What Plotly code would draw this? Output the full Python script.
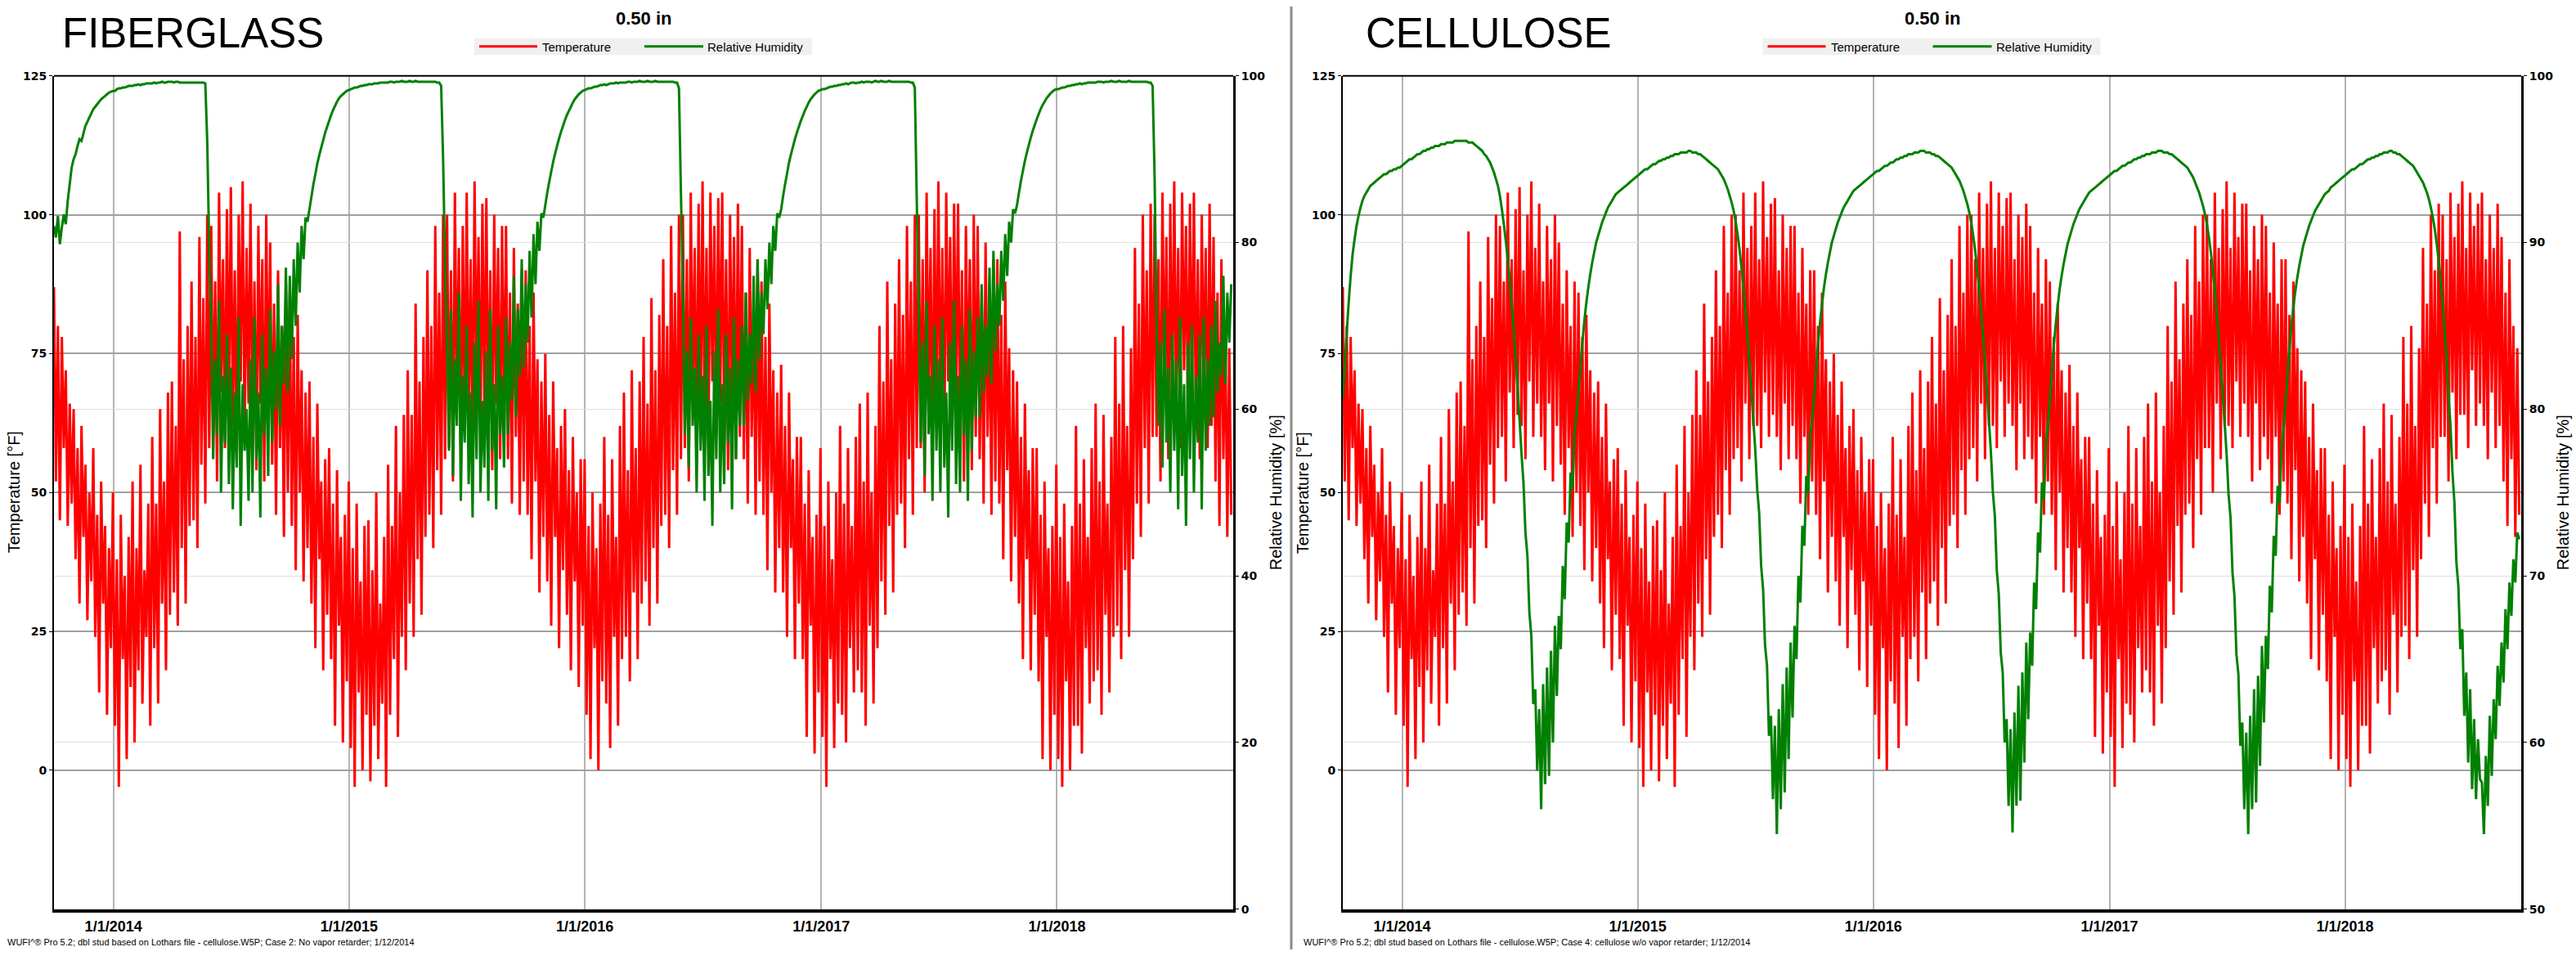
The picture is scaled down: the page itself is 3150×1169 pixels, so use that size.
import pandas as pd
import plotly.graph_objects as go

W, H = 3150, 1169

# ---------------- data ----------------
start_date = "2013-10-01"
end_date = "2018-10-01"

year_tick_dates = ["2014-01-01", "2015-01-01", "2016-01-01", "2017-01-01", "2018-01-01"]
year_tick_labels = ["1/1/2014", "1/1/2015", "1/1/2016", "1/1/2017", "1/1/2018"]

temp_ticks = [0, 25, 50, 75, 100, 125]
rh_ticks_fiberglass = [0, 20, 40, 60, 80, 100]
rh_ticks_cellulose = [50, 60, 70, 80, 90, 100]

# temperature [F], ~10 readings per month, Oct 2013 .. Sep 2018
temp_f = [
    87, 52, 80, 45, 78, 58, 72, 44, 66, 48,
    65, 38, 58, 30, 62, 42, 55, 27, 50, 34,
    58, 24, 46, 14, 52, 30, 44, 10, 40, 22,
    50, 8, 38, -3, 46, 20, 35, 2, 42, 15,
    52, 5, 40, 18, 55, 12, 36, 24, 48, 8,
    60, 22, 48, 12, 65, 30, 52, 18, 68, 28,
    70, 32, 62, 26, 97, 40, 74, 30, 80, 44,
    88, 45, 78, 40, 96, 55, 85, 48, 100, 58,
    98, 60, 88, 52, 104, 68, 92, 58, 101, 64,
    105, 62, 90, 56, 100, 70, 106, 60, 94, 66,
    102, 60, 88, 54, 98, 66, 92, 52, 100, 62,
    95, 55, 84, 46, 90, 58, 80, 42, 88, 50,
    86, 44, 78, 36, 82, 50, 72, 34, 68, 40,
    70, 30, 60, 22, 66, 38, 52, 18, 56, 28,
    58, 20, 48, 8, 54, 26, 42, 5, 46, 16,
    52, 4, 40, -3, 48, 14, 34, 0, 44, 10,
    45, -2, 36, 8, 50, 2, 30, 12, 42, -3,
    55, 10, 44, 20, 62, 6, 50, 24, 64, 18,
    72, 30, 64, 24, 84, 38, 70, 28, 78, 42,
    90, 46, 80, 40, 98, 54, 86, 46, 100, 56,
    100, 58, 90, 52, 104, 66, 94, 56, 98, 62,
    104, 62, 92, 58, 106, 68, 96, 60, 102, 64,
    103, 60, 90, 54, 100, 66, 94, 56, 98, 62,
    98, 56, 86, 48, 94, 60, 84, 46, 90, 52,
    90, 46, 80, 38, 86, 52, 74, 32, 70, 42,
    75, 34, 64, 26, 70, 42, 58, 22, 62, 36,
    65, 28, 54, 18, 60, 34, 50, 15, 56, 26,
    56, 10, 44, 2, 50, 22, 40, 0, 48, 16,
    60, 12, 46, 4, 56, 24, 42, 8, 62, 20,
    68, 24, 54, 16, 72, 32, 58, 20, 70, 30,
    78, 34, 66, 26, 85, 40, 72, 30, 82, 44,
    92, 46, 80, 40, 98, 54, 86, 46, 100, 56,
    100, 58, 92, 52, 104, 66, 94, 56, 102, 62,
    106, 62, 94, 58, 104, 70, 98, 60, 103, 66,
    104, 62, 92, 54, 100, 66, 96, 56, 102, 60,
    98, 56, 86, 48, 94, 60, 84, 46, 92, 52,
    88, 46, 78, 36, 84, 50, 72, 32, 68, 40,
    73, 32, 62, 24, 68, 40, 56, 20, 60, 30,
    60, 20, 48, 6, 54, 26, 42, 3, 46, 14,
    58, 6, 44, -3, 52, 20, 38, 4, 50, 12,
    62, 10, 48, 5, 58, 22, 44, 14, 60, 18,
    66, 14, 52, 8, 68, 26, 50, 12, 62, 22,
    80, 34, 70, 28, 88, 44, 74, 32, 84, 46,
    92, 48, 82, 40, 98, 56, 88, 46, 100, 58,
    100, 58, 92, 50, 104, 66, 94, 56, 101, 62,
    106, 62, 94, 58, 104, 70, 96, 60, 102, 66,
    102, 60, 90, 52, 98, 66, 92, 54, 100, 60,
    98, 56, 86, 48, 95, 60, 84, 46, 92, 52,
    92, 48, 82, 38, 88, 54, 76, 34, 72, 42,
    70, 30, 60, 20, 66, 38, 54, 18, 58, 28,
    58, 16, 46, 2, 52, 24, 40, 0, 44, 10,
    55, 2, 42, -3, 48, 16, 34, 0, 44, 8,
    62, 8, 48, 3, 56, 22, 42, 12, 58, 16,
    66, 18, 52, 10, 64, 28, 48, 14, 60, 24,
    78, 26, 66, 20, 80, 36, 62, 24, 76, 38,
    94, 48, 84, 42, 100, 58, 90, 48, 102, 60,
    100, 60, 92, 52, 104, 68, 96, 56, 102, 64,
    106, 64, 94, 58, 104, 72, 98, 62, 102, 66,
    104, 62, 92, 56, 100, 68, 94, 58, 102, 62,
    96, 52, 86, 44, 92, 56, 80, 42, 76, 46,
]

# relative humidity [%] at 0.50 in, fiberglass case
rh_fiberglass = [
    82.0, 80.6, 83.2, 79.8, 81.8, 83.4, 82.2, 85.0, 87.0, 89.0,
    90.0, 90.6, 91.6, 92.4, 92.2, 93.1, 94.0, 94.5, 95.0, 95.5,
    96.0, 96.3, 96.6, 96.9, 97.2, 97.4, 97.6, 97.8, 98.0, 98.1,
    98.2, 98.2, 98.4, 98.5, 98.5, 98.6, 98.6, 98.7, 98.8, 98.8,
    98.8, 98.9, 98.9, 99.0, 98.9, 99.0, 99.0, 99.1, 99.1, 99.1,
    99.1, 99.2, 99.1, 99.2, 99.2, 99.3, 99.2, 99.2, 99.3, 99.3,
    99.3, 99.2, 99.3, 99.3, 99.2, 99.2, 99.2, 99.2, 99.2, 99.2,
    99.2, 99.2, 99.2, 99.2, 99.2, 99.2, 99.2, 99.1, 92.0, 79.0,
    70.0, 54.0, 66.0, 57.0, 73.0, 50.0, 64.0, 56.0, 69.0, 51.0,
    65.0, 48.0, 62.0, 53.0, 71.0, 46.0, 63.0, 55.0, 60.0, 49.0,
    66.0, 50.0, 71.0, 54.0, 62.0, 47.0, 69.0, 57.0, 65.0, 52.0,
    72.0, 56.0, 67.0, 60.0, 75.0, 58.0, 70.0, 63.0, 77.0, 62.0,
    76.0, 66.0, 78.0, 70.0, 80.0, 74.0, 82.0, 78.0, 83.0, 82.5,
    84.0, 85.5, 87.0, 88.2, 89.5, 90.5, 91.4, 92.3, 93.2, 93.9,
    94.6, 95.3, 95.9, 96.4, 96.9, 97.3, 97.6, 97.8, 98.0, 98.2,
    98.3, 98.4, 98.5, 98.6, 98.6, 98.7, 98.8, 98.8, 98.9, 98.9,
    99.0, 99.0, 99.0, 99.1, 99.1, 99.1, 99.2, 99.2, 99.2, 99.2,
    99.2, 99.3, 99.3, 99.2, 99.3, 99.3, 99.3, 99.4, 99.3, 99.3,
    99.3, 99.4, 99.3, 99.3, 99.4, 99.3, 99.3, 99.3, 99.3, 99.3,
    99.3, 99.3, 99.3, 99.3, 99.3, 99.2, 99.2, 98.8, 90.0, 77.0,
    68.0, 55.0, 72.0, 52.0, 66.0, 58.0, 74.0, 49.0, 64.0, 56.0,
    70.0, 51.0, 62.0, 47.0, 68.0, 54.0, 73.0, 50.0, 61.0, 53.0,
    67.0, 49.0, 72.0, 55.0, 63.0, 48.0, 70.0, 57.0, 64.0, 53.0,
    71.0, 57.0, 68.0, 61.0, 76.0, 59.0, 72.0, 64.0, 78.0, 65.0,
    75.0, 68.0, 79.0, 71.0, 81.0, 75.0, 82.5, 79.0, 83.5, 83.0,
    84.5, 86.0, 87.3, 88.5, 89.7, 90.7, 91.6, 92.5, 93.3, 94.0,
    94.7, 95.3, 95.8, 96.3, 96.8, 97.2, 97.5, 97.8, 98.0, 98.2,
    98.3, 98.4, 98.5, 98.5, 98.6, 98.7, 98.7, 98.8, 98.9, 98.9,
    99.0, 98.9, 99.0, 99.1, 99.1, 99.1, 99.2, 99.1, 99.2, 99.2,
    99.2, 99.2, 99.3, 99.3, 99.2, 99.3, 99.3, 99.3, 99.4, 99.3,
    99.3, 99.3, 99.4, 99.3, 99.3, 99.3, 99.4, 99.3, 99.3, 99.3,
    99.3, 99.3, 99.3, 99.3, 99.3, 99.3, 99.2, 99.2, 98.5, 86.0,
    74.0, 57.0, 67.0, 53.0, 71.0, 58.0, 65.0, 50.0, 69.0, 55.0,
    64.0, 49.0, 70.0, 52.0, 61.0, 46.0, 67.0, 54.0, 72.0, 50.0,
    63.0, 51.0, 69.0, 56.0, 65.0, 48.0, 71.0, 54.0, 66.0, 58.0,
    70.0, 58.0, 74.0, 61.0, 69.0, 63.0, 76.0, 62.0, 78.0, 66.0,
    74.0, 69.0, 78.0, 72.0, 80.0, 75.0, 82.0, 79.0, 83.5, 83.0,
    84.0, 85.6, 87.0, 88.3, 89.6, 90.6, 91.5, 92.4, 93.2, 93.9,
    94.6, 95.2, 95.8, 96.3, 96.8, 97.2, 97.5, 97.8, 98.0, 98.2,
    98.3, 98.4, 98.4, 98.5, 98.6, 98.7, 98.7, 98.8, 98.8, 98.9,
    98.9, 99.0, 99.0, 99.1, 99.0, 99.1, 99.2, 99.2, 99.1, 99.2,
    99.2, 99.3, 99.2, 99.3, 99.3, 99.3, 99.2, 99.3, 99.4, 99.3,
    99.3, 99.4, 99.3, 99.3, 99.3, 99.4, 99.3, 99.3, 99.3, 99.3,
    99.3, 99.3, 99.3, 99.3, 99.3, 99.3, 99.2, 99.2, 98.6, 85.0,
    72.0, 56.0, 68.0, 52.0, 73.0, 57.0, 64.0, 49.0, 70.0, 55.0,
    66.0, 50.0, 71.0, 53.0, 62.0, 47.0, 68.0, 55.0, 73.0, 51.0,
    64.0, 50.0, 70.0, 57.0, 66.0, 49.0, 72.0, 55.0, 67.0, 59.0,
    71.0, 59.0, 75.0, 62.0, 70.0, 64.0, 77.0, 63.0, 79.0, 67.0,
    75.0, 70.0, 79.0, 73.0, 81.0, 76.0, 82.5, 80.0, 84.0, 83.5,
    84.5, 86.0, 87.4, 88.6, 89.8, 90.8, 91.7, 92.6, 93.4, 94.1,
    94.8, 95.4, 96.0, 96.5, 96.9, 97.3, 97.6, 97.9, 98.1, 98.3,
    98.4, 98.4, 98.5, 98.6, 98.6, 98.7, 98.8, 98.8, 98.9, 98.9,
    99.0, 99.0, 99.1, 99.0, 99.1, 99.1, 99.2, 99.2, 99.2, 99.2,
    99.2, 99.3, 99.3, 99.3, 99.2, 99.3, 99.3, 99.3, 99.4, 99.3,
    99.3, 99.3, 99.4, 99.3, 99.3, 99.3, 99.3, 99.4, 99.3, 99.3,
    99.3, 99.3, 99.3, 99.3, 99.3, 99.3, 99.3, 99.2, 99.2, 98.8,
    88.0, 70.0, 58.0, 68.0, 53.0, 72.0, 56.0, 65.0, 50.0, 69.0,
    55.0, 66.0, 48.0, 71.0, 52.0, 63.0, 46.0, 68.0, 54.0, 70.0,
    50.0, 64.0, 56.0, 69.0, 48.0, 71.0, 55.0, 66.0, 58.0, 70.0,
    59.0, 73.0, 62.0, 68.0, 64.0, 76.0, 63.0, 74.0, 68.0, 75.0,
]

# relative humidity [%] at 0.50 in, cellulose case
rh_cellulose = [
    80.7, 82.5, 84.6, 86.4, 88.0, 89.3, 90.2, 91.0, 91.6, 92.1,
    92.5, 92.8, 93.0, 93.2, 93.4, 93.5, 93.6, 93.7, 93.8, 93.9,
    94.0, 94.1, 94.1, 94.2, 94.3, 94.3, 94.4, 94.4, 94.5, 94.5,
    94.6, 94.7, 94.8, 94.9, 95.0, 95.0, 95.1, 95.2, 95.3, 95.3,
    95.4, 95.5, 95.5, 95.6, 95.6, 95.7, 95.7, 95.8, 95.8, 95.8,
    95.9, 95.9, 95.9, 96.0, 96.0, 96.0, 96.0, 96.1, 96.1, 96.1,
    96.1, 96.1, 96.1, 96.1, 96.0, 96.0, 96.0, 95.9, 95.8, 95.7,
    95.6, 95.5, 95.3, 95.2, 95.0, 94.8, 94.5, 94.2, 93.8, 93.4,
    92.8, 92.0, 91.1, 90.1, 89.0, 87.7, 86.3, 84.8, 83.1, 81.3,
    79.4, 77.3, 75.6, 72.6, 71.2, 67.8, 66.4, 62.3, 63.2, 58.3,
    62.0, 56.0, 63.5, 57.5, 64.5, 58.0, 65.5, 60.0, 67.0, 62.8,
    67.6, 65.6, 70.6, 68.6, 73.2, 72.0, 76.2, 75.2, 78.6, 79.6,
    81.0, 82.6, 84.0, 85.3, 86.4, 87.3, 88.1, 88.8, 89.4, 90.0,
    90.4, 90.8, 91.2, 91.5, 91.8, 92.1, 92.3, 92.5, 92.7, 92.9,
    93.0, 93.1, 93.2, 93.3, 93.4, 93.5, 93.6, 93.7, 93.8, 93.9,
    94.0, 94.1, 94.2, 94.3, 94.4, 94.4, 94.5, 94.6, 94.7, 94.7,
    94.8, 94.9, 94.9, 95.0, 95.0, 95.1, 95.1, 95.2, 95.2, 95.3,
    95.3, 95.3, 95.4, 95.4, 95.4, 95.4, 95.5, 95.5, 95.4, 95.4,
    95.4, 95.3, 95.3, 95.2, 95.1, 95.0, 94.9, 94.8, 94.7, 94.6,
    94.5, 94.4, 94.2, 94.0, 93.8, 93.5, 93.2, 92.8, 92.4, 91.9,
    91.3, 90.5, 89.6, 88.5, 87.3, 86.0, 84.5, 82.9, 81.2, 79.4,
    77.6, 75.2, 73.8, 70.6, 69.2, 65.8, 64.6, 60.4, 61.6, 56.6,
    61.0, 54.5, 62.0, 56.0, 63.5, 57.0, 64.5, 59.0, 66.0, 61.5,
    67.0, 65.0, 70.0, 68.4, 73.0, 71.8, 76.0, 75.0, 78.4, 79.4,
    80.8, 82.4, 83.9, 85.2, 86.3, 87.3, 88.1, 88.8, 89.4, 90.0,
    90.4, 90.8, 91.2, 91.5, 91.8, 92.1, 92.3, 92.5, 92.7, 92.9,
    93.1, 93.2, 93.3, 93.4, 93.5, 93.6, 93.7, 93.8, 93.9, 94.0,
    94.1, 94.2, 94.3, 94.3, 94.4, 94.5, 94.6, 94.6, 94.7, 94.8,
    94.8, 94.9, 95.0, 95.0, 95.1, 95.1, 95.2, 95.2, 95.3, 95.3,
    95.3, 95.4, 95.4, 95.4, 95.5, 95.5, 95.5, 95.4, 95.4, 95.4,
    95.3, 95.3, 95.2, 95.2, 95.1, 95.0, 94.9, 94.8, 94.7, 94.6,
    94.5, 94.3, 94.1, 93.9, 93.7, 93.4, 93.1, 92.7, 92.3, 91.8,
    91.2, 90.4, 89.5, 88.4, 87.2, 85.9, 84.4, 82.8, 81.1, 79.3,
    77.4, 75.0, 73.6, 70.3, 68.9, 65.4, 64.2, 60.0, 61.4, 56.2,
    60.8, 54.6, 61.8, 56.2, 63.4, 56.5, 64.2, 58.8, 66.0, 61.4,
    66.6, 64.6, 69.6, 68.0, 72.6, 71.4, 75.6, 74.6, 78.0, 79.0,
    80.5, 82.2, 83.8, 85.1, 86.2, 87.2, 88.0, 88.7, 89.3, 89.9,
    90.3, 90.7, 91.1, 91.4, 91.7, 92.0, 92.2, 92.4, 92.6, 92.8,
    93.0, 93.1, 93.2, 93.3, 93.4, 93.5, 93.6, 93.7, 93.8, 93.9,
    94.0, 94.1, 94.2, 94.3, 94.3, 94.4, 94.5, 94.6, 94.6, 94.7,
    94.8, 94.8, 94.9, 95.0, 95.0, 95.1, 95.1, 95.2, 95.2, 95.3,
    95.3, 95.3, 95.4, 95.4, 95.4, 95.5, 95.5, 95.5, 95.4, 95.4,
    95.4, 95.3, 95.3, 95.2, 95.1, 95.0, 94.9, 94.8, 94.7, 94.6,
    94.5, 94.3, 94.1, 93.9, 93.6, 93.3, 93.0, 92.6, 92.2, 91.7,
    91.1, 90.3, 89.4, 88.3, 87.1, 85.8, 84.3, 82.7, 81.0, 79.2,
    77.3, 74.9, 73.5, 70.2, 68.8, 65.3, 64.1, 59.8, 61.2, 56.0,
    60.6, 54.5, 61.6, 56.0, 63.2, 56.4, 64.0, 58.6, 65.8, 61.2,
    66.4, 64.4, 69.4, 67.8, 72.4, 71.2, 75.4, 74.4, 77.8, 78.8,
    80.4, 82.0, 83.6, 85.0, 86.1, 87.1, 87.9, 88.6, 89.2, 89.8,
    90.2, 90.6, 91.0, 91.3, 91.6, 91.9, 92.1, 92.3, 92.5, 92.7,
    92.9, 93.0, 93.1, 93.3, 93.4, 93.5, 93.6, 93.7, 93.8, 93.9,
    94.0, 94.1, 94.2, 94.3, 94.4, 94.4, 94.5, 94.6, 94.7, 94.7,
    94.8, 94.9, 95.0, 95.0, 95.1, 95.1, 95.2, 95.2, 95.3, 95.3,
    95.4, 95.4, 95.4, 95.5, 95.5, 95.4, 95.4, 95.3, 95.3, 95.2,
    95.1, 95.0, 94.9, 94.8, 94.7, 94.6, 94.4, 94.2, 94.0, 93.8,
    93.6, 93.3, 93.0, 92.6, 92.1, 91.5, 90.8, 89.9, 88.9, 87.7,
    86.4, 84.8, 83.0, 80.8, 79.0, 76.2, 74.4, 70.8, 69.4, 65.6,
    66.8, 61.6, 64.2, 58.8, 63.2, 57.2, 61.4, 56.6, 60.2, 57.8,
    57.6, 54.5, 59.2, 56.2, 61.6, 58.0, 62.6, 60.2, 64.6, 62.2,
    66.0, 63.6, 68.0, 65.6, 69.6, 67.6, 71.0, 69.6, 72.6, 72.2,
]

footnote_fiberglass = "WUFI^® Pro 5.2; dbl stud based on Lothars file - cellulose.W5P; Case 2: No vapor retarder; 1/12/2014"
footnote_cellulose = "WUFI^® Pro 5.2; dbl stud based on Lothars file - cellulose.W5P; Case 4: cellulose w/o vapor retarder; 1/12/2014"


# ---------------- helpers ----------------
def sample_dates(n):
    t0 = pd.Timestamp(start_date)
    span = (pd.Timestamp(end_date) - t0).days
    return [t0 + pd.Timedelta(days=i * span / n) for i in range(n)]


def px(x):
    return x / W


def py(y):
    return 1 - y / H


FONT = "Liberation Sans, Arial, Helvetica, sans-serif"
TICKFONT = "DejaVu Sans, Verdana, sans-serif"
RED = "#ff0000"
GREEN = "#008000"

Y0, Y1 = py(1119), py(86)
panels = [
    dict(x0=66, x1=1508, title="FIBERGLASS", title_x=74, rh=rh_fiberglass,
         rh_range=[0, 100], rh_ticks=rh_ticks_fiberglass, foot=footnote_fiberglass, foot_x=7,
         tlab_x=17, rlab_x=1560),
    dict(x0=1642, x1=3083, title="CELLULOSE", title_x=1668, rh=rh_cellulose,
         rh_range=[50, 100], rh_ticks=rh_ticks_cellulose, foot=footnote_cellulose, foot_x=1592,
         tlab_x=1593, rlab_x=3134),
]

fig = go.Figure()
annotations = []
shapes = []
layout = {}

for k, p in enumerate(panels):
    xa = "x" if k == 0 else "x2"
    yt = "y" if k == 0 else "y3"
    yr = "y2" if k == 0 else "y4"
    fig.add_trace(go.Scatter(x=sample_dates(len(temp_f)), y=temp_f, mode="lines",
                             line=dict(color=RED, width=3, simplify=False),
                             name="Temperature", xaxis=xa, yaxis=yt, showlegend=False))
    fig.add_trace(go.Scatter(x=sample_dates(len(p["rh"])), y=p["rh"], mode="lines",
                             line=dict(color=GREEN, width=3, simplify=False),
                             name="Relative Humidity", xaxis=xa, yaxis=yr, showlegend=False))

    xkey = "xaxis" if k == 0 else "xaxis2"
    ytkey = "yaxis" if k == 0 else "yaxis3"
    yrkey = "yaxis2" if k == 0 else "yaxis4"
    layout[xkey] = dict(
        domain=[px(p["x0"]), px(p["x1"])], anchor=yt, type="date",
        range=[start_date, end_date], tickmode="array",
        tickvals=year_tick_dates, ticktext=year_tick_labels,
        tickfont=dict(family=FONT, size=18, color="black", weight="bold"),
        ticklabelstandoff=2,
        showgrid=True, gridcolor="#b4b4b4", gridwidth=1.5,
        showline=True, linecolor="black", linewidth=4, ticks="", zeroline=False,
    )
    layout[ytkey] = dict(
        domain=[Y0, Y1], anchor=xa, range=[-25, 125], tickmode="array", tickvals=temp_ticks,
        tickfont=dict(family=TICKFONT, size=14, color="black", weight="bold"),
        showgrid=True, gridcolor="#a0a0a0", gridwidth=1.5,
        showline=True, linecolor="black", linewidth=2,
        ticks="outside", ticklen=4, tickcolor="black", zeroline=False,
    )
    layout[yrkey] = dict(
        overlaying=yt, side="right", anchor=xa, range=p["rh_range"], tickmode="array",
        tickvals=p["rh_ticks"],
        tickfont=dict(family=TICKFONT, size=14, color="black", weight="bold"),
        showgrid=True, gridcolor="#dedede", gridwidth=1,
        showline=True, linecolor="black", linewidth=3,
        ticks="outside", ticklen=4, tickcolor="black", zeroline=False,
    )

    # top frame line
    shapes.append(dict(type="line", xref="paper", yref="paper",
                       x0=px(p["x0"]), x1=px(p["x1"]), y0=Y1, y1=Y1,
                       line=dict(color="black", width=2)))

    cx = (p["x0"] + p["x1"]) / 2
    # big panel title
    annotations.append(dict(text=p["title"], x=px(p["title_x"]), y=py(33), xref="paper", yref="paper",
                            xanchor="left", yanchor="middle", showarrow=False,
                            font=dict(family=FONT, size=51, color="black")))
    # chart title
    annotations.append(dict(text="<b>0.50 in</b>", x=px(cx), y=py(15), xref="paper", yref="paper",
                            xanchor="center", yanchor="middle", showarrow=False,
                            font=dict(family=FONT, size=22, color="black")))
    # legend box
    shapes.append(dict(type="rect", xref="paper", yref="paper",
                       x0=px(cx - 207), x1=px(cx + 206), y0=py(60), y1=py(39),
                       fillcolor="#f0f0f0", line=dict(width=0), layer="below"))
    shapes.append(dict(type="line", xref="paper", yref="paper",
                       x0=px(cx - 201), x1=px(cx - 130), y0=py(49.5), y1=py(49.5),
                       line=dict(color=RED, width=3)))
    shapes.append(dict(type="line", xref="paper", yref="paper",
                       x0=px(cx + 1), x1=px(cx + 73), y0=py(49.5), y1=py(49.5),
                       line=dict(color=GREEN, width=3)))
    annotations.append(dict(text="Temperature", x=px(cx - 126), y=py(50), xref="paper", yref="paper",
                            xanchor="left", yanchor="middle", showarrow=False,
                            font=dict(family=FONT, size=15, color="black")))
    annotations.append(dict(text="Relative Humidity", x=px(cx + 76), y=py(50), xref="paper", yref="paper",
                            xanchor="left", yanchor="middle", showarrow=False,
                            font=dict(family=FONT, size=15, color="black")))
    # axis titles
    ymid = (86 + 1119) / 2
    annotations.append(dict(text="Temperature [°F]", x=px(p["tlab_x"]), y=py(ymid), xref="paper", yref="paper",
                            xanchor="center", yanchor="middle", textangle=-90, showarrow=False,
                            font=dict(family=FONT, size=20, color="black")))
    annotations.append(dict(text="Relative Humidity [%]", x=px(p["rlab_x"]), y=py(ymid), xref="paper", yref="paper",
                            xanchor="center", yanchor="middle", textangle=-90, showarrow=False,
                            font=dict(family=FONT, size=20, color="black")))
    # footnote
    annotations.append(dict(text=p["foot"], x=px(p["foot_x"]), y=py(1160), xref="paper", yref="paper",
                            xanchor="left", yanchor="middle", showarrow=False,
                            font=dict(family=FONT, size=11, color="black")))

# divider between the two panels
shapes.append(dict(type="line", xref="paper", yref="paper", x0=px(1579), x1=px(1579), y0=0, y1=1,
                   line=dict(color="#8c8c8c", width=3)))

fig.update_layout(
    width=W, height=H, autosize=False,
    margin=dict(l=0, r=0, t=0, b=0),
    paper_bgcolor="white", plot_bgcolor="white",
    showlegend=False,
    annotations=annotations, shapes=shapes,
    **layout,
)

fig.write_html(
    "out.html",
    config={"displayModeBar": False},
    post_script="document.body.style.margin='0px';document.body.style.padding='0px';"
                "document.documentElement.style.overflow='hidden';",
)
